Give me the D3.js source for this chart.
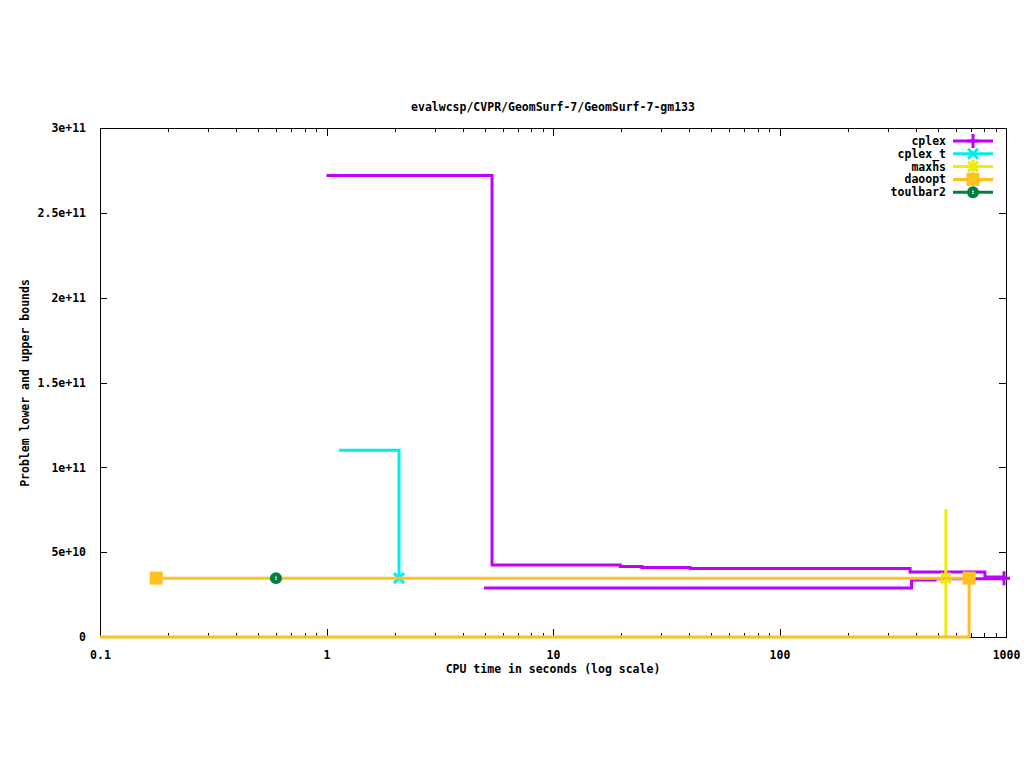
<!DOCTYPE html>
<html>
<head>
<meta charset="utf-8">
<script src="https://cdn.jsdelivr.net/npm/d3@7"></script>
<style>
  body { margin: 0; background: #fff; }
  svg text { font-family: "DejaVu Sans Mono", "Liberation Mono", monospace; font-weight: bold; font-size: 11.5px; fill: #000; }
</style>
</head>
<body>
<svg id="SvgContainer"></svg>
<script>
// ---- data ----
var seriesNames = ["cplex", "cplex_t", "maxhs", "daoopt", "toulbar2"];
var seriesColors = ["#c000ff", "#00eeee", "#eeee00", "#ffc020", "#008040"];
var seriesMarkers = ["plus", "cross", "star", "square", "circle"];

// upper / lower bounds [time, value]
var cplexUpper = [[1.0, 2.72e11], [5.38, 4.24e10], [19.8, 4.16e10], [24.7, 4.10e10], [40.3, 4.04e10], [377, 3.83e10], [807, 3.54e10], [980, 3.47e10]];
var cplexLower = [[4.96, 2.89e10], [383, 3.36e10], [486, 3.44e10], [980, 3.44e10]];
var cplextUpper = [[1.135, 1.10e11], [2.09, 3.47e10]];
var maxhsUpper = [[543, 7.54e10], [543, 3.47e10]];
var maxhsLower = [[543, 0], [543, 3.47e10]];
var daooptUpper = [[0.177, 3.47e10], [687, 3.47e10]];
var daooptLower = [[0.1, 0], [687, 0], [687, 3.47e10]];
var toulbar2Upper = [[0.598, 3.47e10]];

// points that carry a marker
var cplexMarks = [[980, 3.47e10]];
var cplextMarks = [[2.09, 3.47e10]];
var maxhsMarks = [[543, 3.47e10]];
var daooptMarks = [[0.177, 3.47e10], [687, 3.47e10]];
var toulbar2Marks = [[0.598, 3.47e10]];

var xTicks = [0.1, 1, 10, 100, 1000];
var xTickLabels = ["0.1", "1", "10", "100", "1000"];
var yTicks = [0, 5e10, 1e11, 1.5e11, 2e11, 2.5e11, 3e11];
var yTickLabels = ["0", "5e+10", "1e+11", "1.5e+11", "2e+11", "2.5e+11", "3e+11"];

var titleText = "evalwcsp/CVPR/GeomSurf-7/GeomSurf-7-gm133";
var xLabel = "CPU time in seconds (log scale)";
var yLabel = "Problem lower and upper bounds";

// ---- layout ----
var width = 1024, height = 768;
var plotLeft = 100, plotRight = 1006, plotTop = 128, plotBottom = 637;

var svg = d3.select("svg").attr("width", width).attr("height", height);

var x = d3.scaleLog().domain([0.1, 1000]).range([plotLeft, plotRight]);
var y = d3.scaleLinear().domain([0, 3e11]).range([plotBottom, plotTop]);

// minor ticks
var minorTicks = [];
for (var d = 0.1; d < 999; d *= 10) {
    for (var k = 2; k <= 9; k++) minorTicks.push(d * k);
}

function noDomain(g) { g.select(".domain").remove(); }

svg.append("g").attr("transform", "translate(0," + plotBottom + ")")
    .call(d3.axisBottom(x).tickValues(xTicks).tickSize(-8).tickPadding(14)
        .tickFormat(function (d, i) { return xTickLabels[i]; }))
    .call(noDomain);
svg.append("g").attr("transform", "translate(0," + plotBottom + ")")
    .call(d3.axisBottom(x).tickValues(minorTicks).tickSize(-4).tickFormat(""))
    .call(noDomain);
svg.append("g").attr("transform", "translate(0," + plotTop + ")")
    .call(d3.axisTop(x).tickValues(xTicks).tickSize(-8).tickFormat(""))
    .call(noDomain);
svg.append("g").attr("transform", "translate(0," + plotTop + ")")
    .call(d3.axisTop(x).tickValues(minorTicks).tickSize(-4).tickFormat(""))
    .call(noDomain);

svg.append("g").attr("transform", "translate(" + plotLeft + ",0)")
    .call(d3.axisLeft(y).tickValues(yTicks).tickSize(-7).tickPadding(14)
        .tickFormat(function (d, i) { return yTickLabels[i]; }))
    .call(noDomain);
svg.append("g").attr("transform", "translate(" + plotRight + ",0)")
    .call(d3.axisRight(y).tickValues(yTicks).tickSize(-7).tickFormat(""))
    .call(noDomain);

svg.selectAll(".tick line").attr("stroke", "#000").attr("shape-rendering", "crispEdges");
svg.selectAll("g[font-family]").attr("font-family", null).attr("font-size", null);

svg.append("rect")
    .attr("x", plotLeft).attr("y", plotTop)
    .attr("width", plotRight - plotLeft).attr("height", plotBottom - plotTop)
    .attr("fill", "none").attr("stroke", "#000").attr("stroke-width", 1)
    .attr("shape-rendering", "crispEdges");

// ---- titles ----
svg.append("text").attr("x", 553).attr("y", 111).attr("text-anchor", "middle").text(titleText);
svg.append("text").attr("x", 553).attr("y", 673).attr("text-anchor", "middle").text(xLabel);
svg.append("text").attr("transform", "translate(29,383) rotate(-90)").attr("text-anchor", "middle").text(yLabel);

// ---- lines ----
var line = d3.line()
    .x(function (d) { return x(d[0]); })
    .y(function (d) { return y(d[1]); })
    .curve(d3.curveStepAfter);

var allLines = [
    [cplexUpper, 0], [cplexLower, 0],
    [cplextUpper, 1],
    [maxhsUpper, 2], [maxhsLower, 2],
    [daooptUpper, 3], [daooptLower, 3],
    [toulbar2Upper, 4]
];
var allMarks = [cplexMarks, cplextMarks, maxhsMarks, daooptMarks, toulbar2Marks];

function drawMarker(g, kind, cx, cy, color) {
    var s = 6;
    if (kind == "plus" || kind == "star") {
        g.append("path").attr("d", "M" + (cx - s) + "," + cy + "H" + (cx + s) + "M" + cx + "," + (cy - s - 1) + "V" + (cy + s + 1))
            .attr("stroke", color).attr("stroke-width", 3).attr("fill", "none");
    }
    if (kind == "cross" || kind == "star") {
        var c = 5;
        g.append("path").attr("d", "M" + (cx - c) + "," + (cy - c) + "L" + (cx + c) + "," + (cy + c) + "M" + (cx - c) + "," + (cy + c) + "L" + (cx + c) + "," + (cy - c))
            .attr("stroke", color).attr("stroke-width", 3).attr("fill", "none");
    }
    if (kind == "square") {
        g.append("rect").attr("x", cx - 6.5).attr("y", cy - 6.5).attr("width", 13).attr("height", 13).attr("fill", color);
    }
    if (kind == "circle") {
        g.append("circle").attr("cx", cx).attr("cy", cy).attr("r", 6).attr("fill", color);
        g.append("rect").attr("x", cx - 1).attr("y", cy - 1.5).attr("width", 2).attr("height", 1).attr("fill", "#fff");
        g.append("rect").attr("x", cx - 1).attr("y", cy + 0.5).attr("width", 2).attr("height", 1).attr("fill", "#fff");
    }
}

var plot = svg.append("g");
for (var s = 0; s < seriesNames.length; s++) {
    var grp = plot.append("g");
    allLines.forEach(function (l) {
        if (l[1] != s || l[0].length < 2) return;
        grp.append("path").attr("d", line(l[0]))
            .attr("fill", "none").attr("stroke", seriesColors[s]).attr("stroke-width", 3);
    });
    allMarks[s].forEach(function (p) {
        drawMarker(grp, seriesMarkers[s], x(p[0]), y(p[1]), seriesColors[s]);
    });
}

// ---- legend ----
var legend = svg.append("g");
seriesNames.forEach(function (name, i) {
    var ly = 141 + i * 12.8;
    legend.append("text").attr("x", 946).attr("y", ly + 4).attr("text-anchor", "end").text(name);
    legend.append("line").attr("x1", 953).attr("x2", 993).attr("y1", ly).attr("y2", ly)
        .attr("stroke", seriesColors[i]).attr("stroke-width", 3);
    drawMarker(legend, seriesMarkers[i], 973, ly, seriesColors[i]);
});
</script>
</body>
</html>
